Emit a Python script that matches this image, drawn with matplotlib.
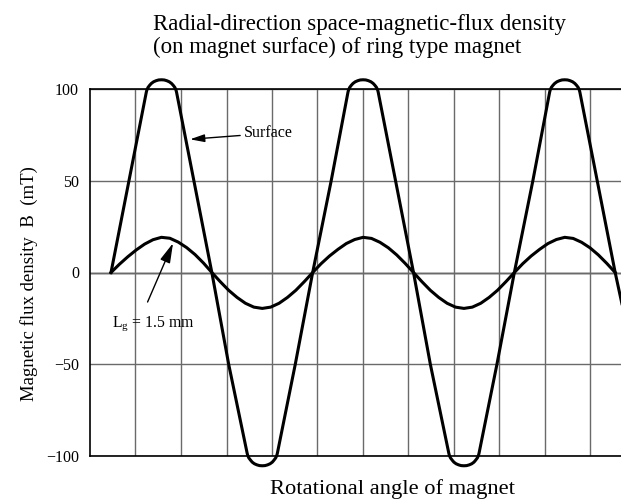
import numpy as np
import matplotlib.pyplot as plt

plt.rcParams['font.family'] = ['Liberation Serif', 'DejaVu Serif']
plt.rcParams['mathtext.fontset'] = 'custom'
plt.rcParams['mathtext.rm'] = 'Liberation Serif'
plt.rcParams['mathtext.it'] = 'Liberation Serif:italic'

# rotational angle in electrical degrees (x axis has no numbers in the figure)
surface_angle = [0, 32,
                 63, 64, 66, 69, 72, 76, 80.5, 85, 90, 95, 99.5, 104, 108, 111, 114, 116, 117,
                 148, 180, 210,
                 243, 244, 246, 249, 252, 256, 260.5, 265, 270, 275, 279.5, 284, 288, 291, 294, 296, 297,
                 329, 360, 393,
                 423, 424, 426, 429, 432, 436, 440.5, 445, 450, 455, 459.5, 464, 468, 471, 474, 476, 477,
                 508, 540, 570,
                 603, 604, 606, 609, 612, 616, 620.5, 625, 630, 635, 639.5, 644, 648, 651, 654, 656, 657,
                 689, 720, 753,
                 783, 784, 786, 789, 792, 796, 800.5, 805, 810, 815, 819.5, 824, 828, 831, 834, 836, 837,
                 868, 900, 912]
surface_b = [0, 50,
             98.4, 99.6, 101.0, 102.2, 103.2, 104.1, 104.7, 105.1, 105.2, 105.1, 104.7, 104.1, 103.2, 102.2, 101.0, 99.6, 98.4,
             50, 0, -50,
             -98.6, -99.8, -101.2, -102.4, -103.5, -104.4, -105.0, -105.4, -105.5, -105.4, -105.0, -104.4, -103.5, -102.4, -101.2, -99.8, -98.6,
             -50, 0, 50,
             98.4, 99.6, 101.0, 102.2, 103.2, 104.1, 104.7, 105.1, 105.2, 105.1, 104.7, 104.1, 103.2, 102.2, 101.0, 99.6, 98.4,
             50, 0, -50,
             -98.6, -99.8, -101.2, -102.4, -103.5, -104.4, -105.0, -105.4, -105.5, -105.4, -105.0, -104.4, -103.5, -102.4, -101.2, -99.8, -98.6,
             -50, 0, 50,
             98.4, 99.6, 101.0, 102.2, 103.2, 104.1, 104.7, 105.1, 105.2, 105.1, 104.7, 104.1, 103.2, 102.2, 101.0, 99.6, 98.4,
             50, 0, -17]

# air gap Lg = 1.5 mm, read every 15 degrees
lg_angle = np.arange(0, 901, 15)
lg_b = [0, 4.5, 8.6, 12.3, 15.5, 17.9, 19.2, 18.7, 16.6, 13.6, 9.8, 5.2,
        0, -5.0, -9.7, -13.6, -16.8, -18.9, -19.6, -18.9, -16.8, -13.6, -9.7, -5.0,
        0, 4.8, 9.0, 12.6, 15.8, 18.0, 19.2, 18.6, 16.5, 13.5, 9.6, 5.0,
        0, -5.0, -9.7, -13.6, -16.8, -18.9, -19.6, -18.9, -16.8, -13.6, -9.7, -5.0,
        0, 4.8, 9.0, 12.6, 15.8, 18.0, 19.2, 18.6, 16.5, 13.5, 9.6, 5.0, 0]

grid_angle = [43.7, 125, 206.2, 287.4, 368.6, 449.8, 531, 612.3, 693.5, 774.7, 855.9]
y_ticks = [-100, -50, 0, 50, 100]
y_labels = ['\u2212100', '\u221250', '0', '50', '100']

fig = plt.figure(figsize=(6.21, 4.99), dpi=100)
ax = fig.add_axes([90/621, 1-455.7/499, 1-90/621, (455.7-89.3)/499])

ax.set_xlim(-37.5, 910.4)
ax.set_ylim(-100, 100)
ax.set_xticks(grid_angle)
ax.set_xticklabels([])
ax.set_yticks(y_ticks)
ax.set_yticklabels(y_labels, fontsize=11.5)
ax.tick_params(length=0, pad=8)
ax.grid(True, color='#6a6a6a', linewidth=1.0)
ax.axhline(0, color='black', linewidth=1.0, zorder=1.5)

for s in ['left', 'top', 'bottom']:
    ax.spines[s].set_linewidth(1.2)
    ax.spines[s].set_color('black')
ax.spines['right'].set_visible(False)

ax.plot(surface_angle, surface_b, color='black', linewidth=2.2, solid_joinstyle='round',
        zorder=3, clip_on=False)
ax.plot(lg_angle, lg_b, color='black', linewidth=2.2, solid_joinstyle='round', zorder=3)

arrow = dict(arrowstyle='-|>,head_length=0.75,head_width=0.2', color='black',
             linewidth=1.0, shrinkA=1, shrinkB=0)
ax.annotate('Surface', xy=(141, 72.7), xytext=(238, 73.8), fontsize=11.5,
            ha='left', va='baseline', arrowprops=arrow)
ax.annotate('', xy=(110.7, 16), xytext=(64.3, -16.8), arrowprops=dict(arrow, mutation_scale=16))
ax.text(1.5, -29.3, 'L$_{\\mathrm{g}}$ = 1.5 mm', fontsize=11.3, ha='left', va='baseline')

fig.text(153/621, 1-30/499, 'Radial-direction space-magnetic-flux density', fontsize=16.5,
         ha='left', va='baseline')
fig.text(153/621, 1-53/499, '(on magnet surface) of ring type magnet', fontsize=16.5,
         ha='left', va='baseline')
fig.text(29/621, 1-284/499, 'Magnetic flux density  B  (mT)', fontsize=13.5, rotation=90,
         ha='center', va='center')
fig.text(393/621, 1-494/499, 'Rotational angle of magnet', fontsize=16.2, ha='center', va='baseline')

fig.savefig('out.png', dpi=100)
